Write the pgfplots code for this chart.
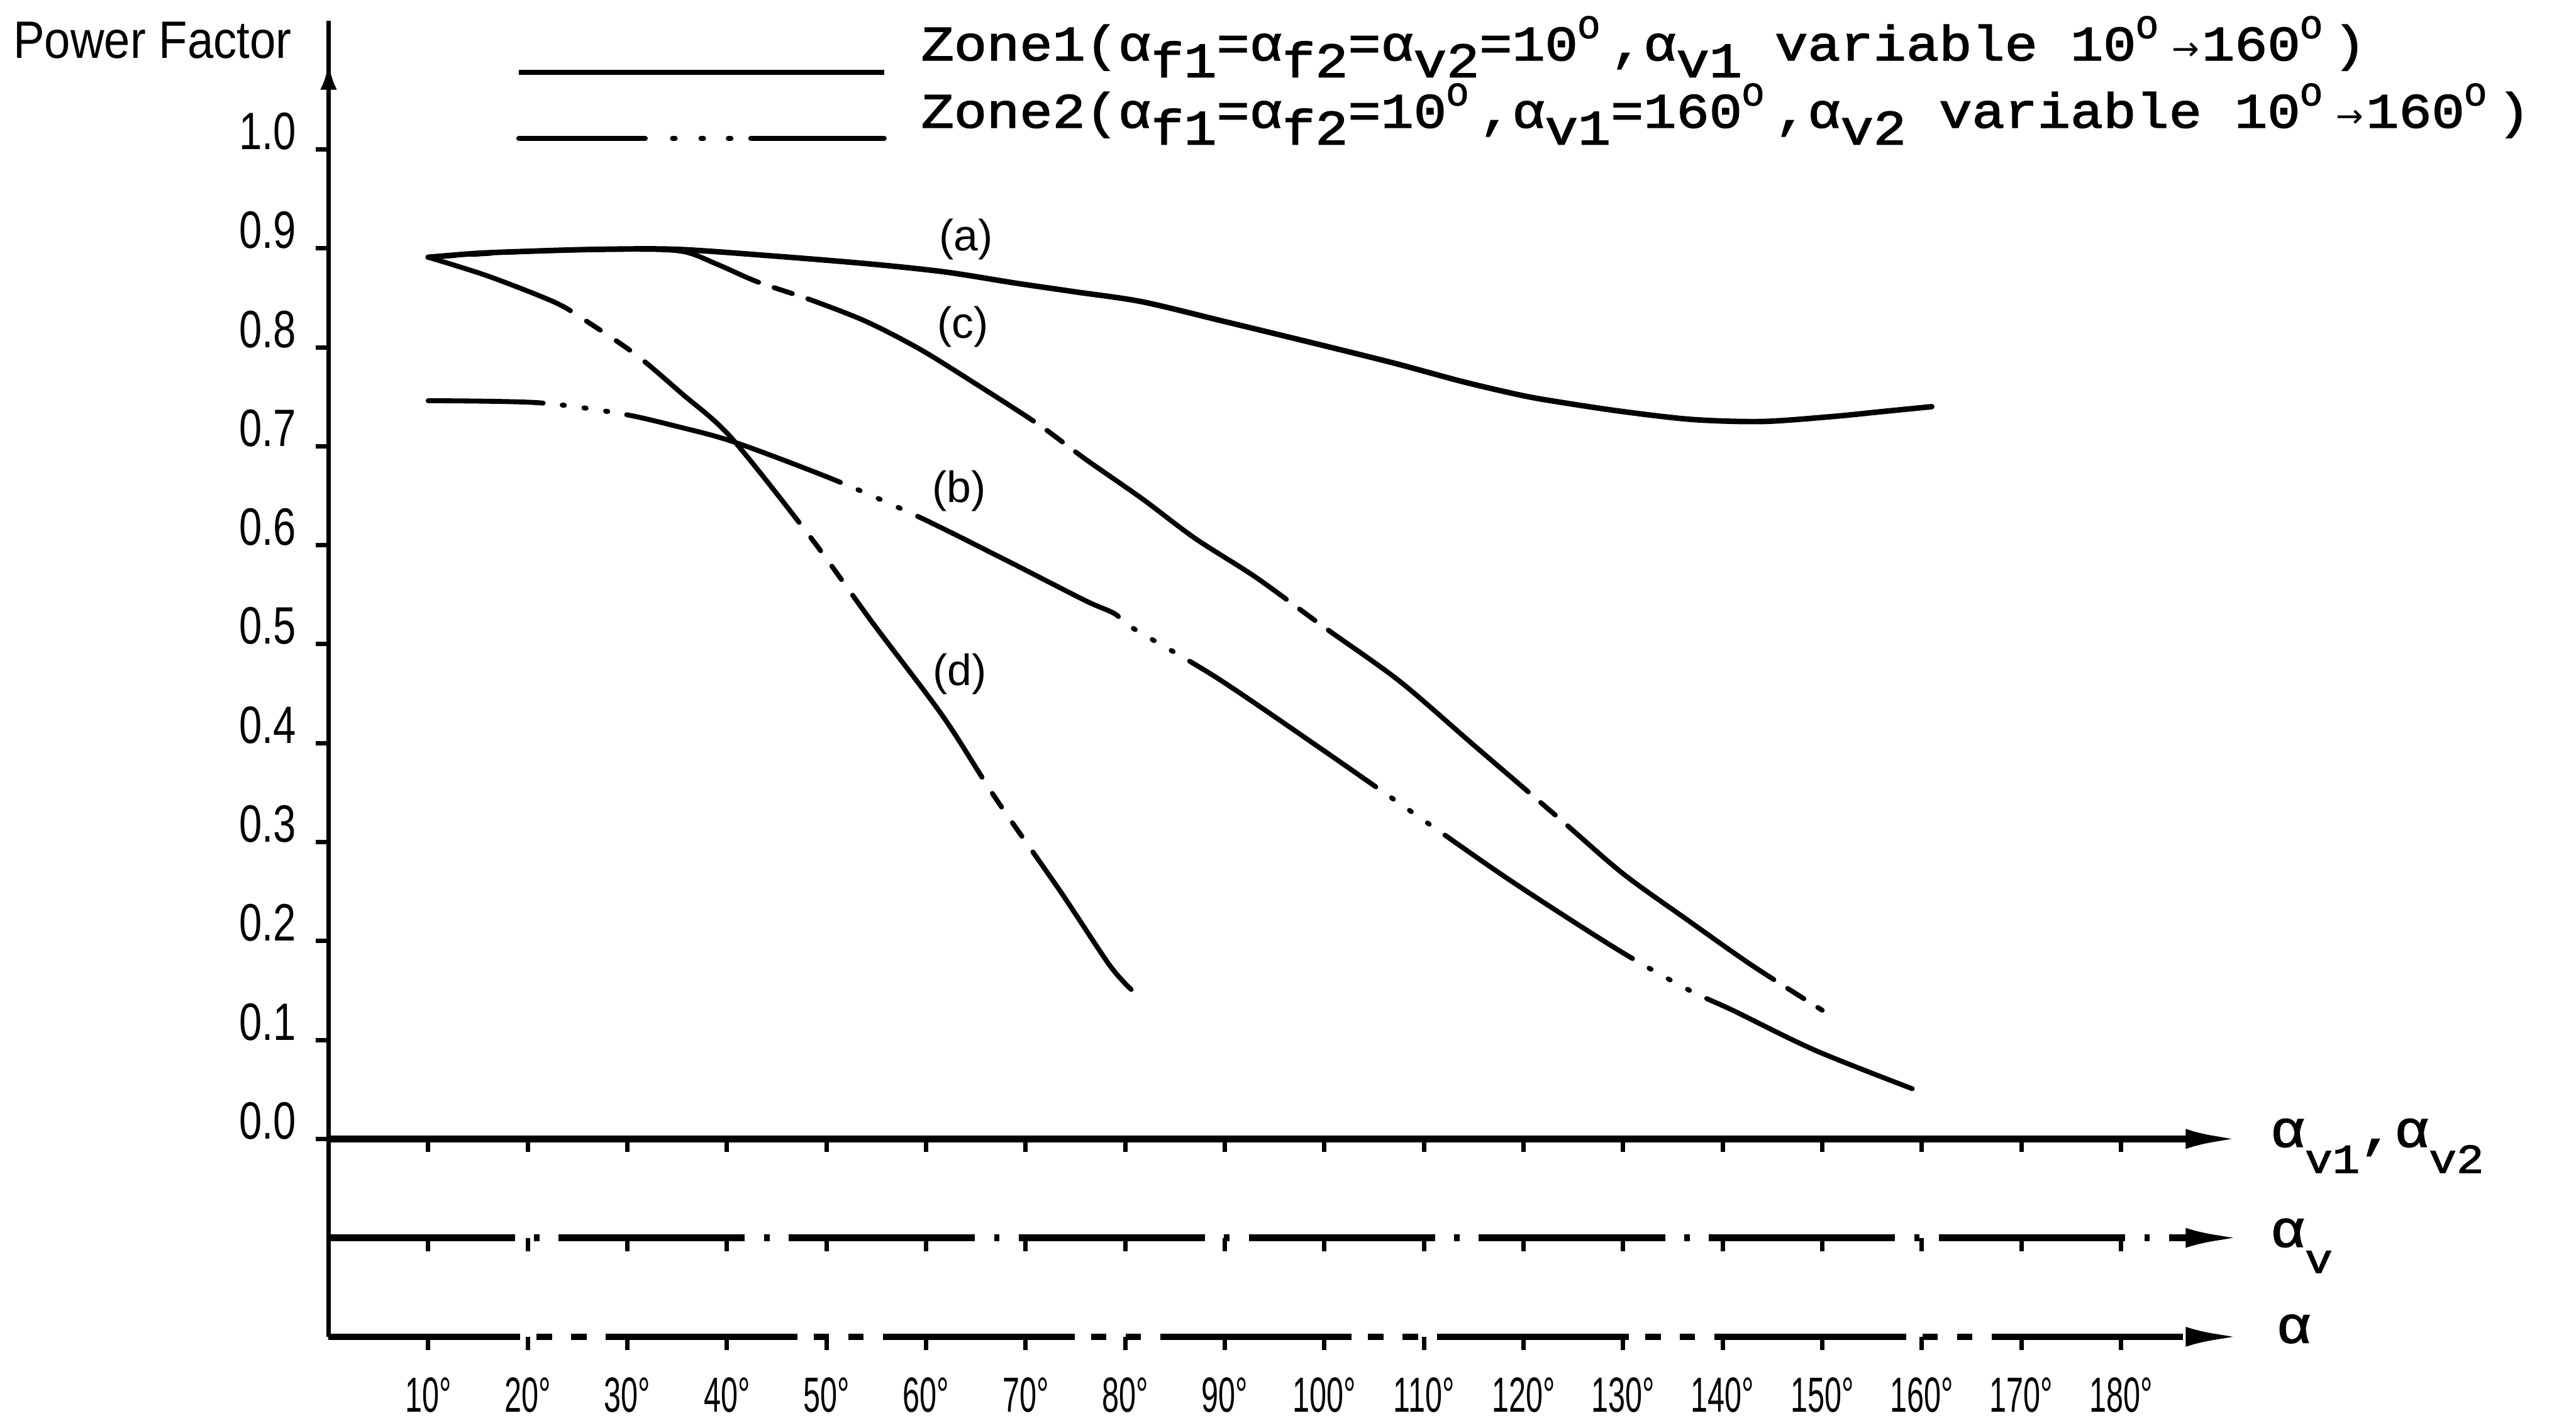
\documentclass[border=0pt]{standalone}
\usepackage{fontspec}
\setmainfont{Liberation Sans}
\newfontfamily\pffont[FakeStretch=0.89]{Liberation Sans}
\newfontfamily\ylabfont[FakeStretch=0.78]{Liberation Sans}
\newfontfamily\xlabfont[FakeStretch=0.62]{Liberation Sans}
\newfontfamily\typew[FakeStretch=1.11,FakeBold=2]{Liberation Mono}
\newfontfamily\symf{DejaVu Sans}
\usepackage{pgfplots}
\pgfplotsset{compat=1.18}
\usetikzlibrary{arrows.meta}

% typewriter-style sub/superscripts of the legend
\newcommand{\sub}[1]{\raisebox{-0.34em}{#1}}
\newcommand{\dg}{\makebox[6pt][l]{\raisebox{0.45em}{\fontsize{6}{6}\selectfont O}}}
\newcommand{\ar}{\makebox[6pt]{\symf\fontsize{6}{6}\selectfont →}}
\newcommand{\rsub}[1]{\raisebox{-0.5em}{\fontsize{7.5}{7.5}\selectfont #1}}

\begin{document}
\begin{tikzpicture}
\begin{axis}[
  x=1.818pt, y=180.6pt,
  xmin=0, xmax=192, ymin=-0.2, ymax=1.13,
  axis x line*=bottom, axis y line*=left,
  clip=false,
  x axis line style={line width=1.2pt,
    dash pattern=on 35pt off 3pt on 2.8pt off 3.5pt on 2.8pt off 3.5pt,
    -{Latex[length=10pt,width=3.6pt]}},
  y axis line style={line width=0.9pt},
  tick align=outside, major tick length=2.4pt,
  tick style={black, line width=0.8pt},
  xtick={10,20,...,180},
  xticklabels={10°,20°,30°,40°,50°,60°,70°,80°,90°,100°,110°,120°,130°,140°,150°,160°,170°,180°},
  ytick={0,0.1,0.2,0.3,0.4,0.5,0.6,0.7,0.8,0.9,1.0},
  yticklabels={0.0,0.1,0.2,0.3,0.4,0.5,0.6,0.7,0.8,0.9,1.0},
  xticklabel style={font=\xlabfont\fontsize{9}{10}\selectfont, anchor=base,
    inner xsep=0pt, inner ysep=1pt, yshift=-11.3pt},
  yticklabel style={font=\ylabfont\fontsize{9.6}{10}\selectfont, anchor=base east,
    inner sep=0pt, xshift=-3.3pt},
]

% frame of the drawing sheet
\path (axis cs:-33,-0.279) rectangle (axis cs:225.7,1.151);

% small arrow head on the power factor axis
\draw[line width=0.9pt, -{Latex[length=5pt,width=3pt]}] (axis cs:0,1.05) -- (axis cs:0,1.088);

% alpha_v1, alpha_v2 axis (PF = 0) and alpha_v axis
\addplot[line width=1.3pt, -{Latex[length=10pt,width=3.6pt]}] coordinates {(0,0) (192,0)};
\addplot[line width=1.2pt, dash pattern=on 34pt off 3.5pt on 1pt off 3.5pt,
  -{Latex[length=10pt,width=3.6pt]}] coordinates {(0,-0.1) (192,-0.1)};
\pgfplotsinvokeforeach{10,20,...,180}{
  \draw[line width=0.8pt] (axis cs:#1,0) -- ++(0pt,-2.4pt);
  \draw[line width=0.8pt] (axis cs:#1,-0.1) -- ++(0pt,-2.4pt);
}

% (a) zone 1
\addplot[line width=1pt, line cap=round, smooth] coordinates {
  (10,0.891) (15,0.895) (20,0.897) (27,0.899) (35,0.899) (45,0.892)
  (54.6,0.884) (62,0.876) (68.9,0.865) (75,0.856) (81.7,0.846) (90,0.826)
  (99,0.804) (107,0.784) (114,0.765) (120,0.751) (124,0.744) (130,0.735)
  (137,0.727) (144,0.725) (151,0.730) (156,0.735) (161,0.740)};

% (c)
\addplot[line width=0.9pt, line cap=round, smooth,
  dash pattern=on 47pt off 3pt on 3.5pt off 3pt, dash phase=42pt] coordinates {
  (10,0.891) (20,0.897) (30,0.899) (35.5,0.897) (39,0.884) (43.1,0.866)
  (48.4,0.848) (54,0.826) (59.4,0.798) (65,0.763) (71.3,0.722) (76,0.687)
  (81.7,0.647) (87,0.607) (93.2,0.567) (100,0.517) (107.5,0.463) (115,0.398)
  (123.8,0.322) (130,0.268) (136.5,0.221) (143,0.175) (150,0.130)};

% (b) zone 2
\addplot[line width=0.9pt, line cap=round, smooth,
  dash pattern=on 41pt off 3.5pt on 0.4pt off 3.6pt on 0.4pt off 3.6pt on 0.4pt off 3.5pt,
  dash phase=20pt] coordinates {
  (10,0.746) (21,0.744) (29.3,0.733) (35,0.720) (40.8,0.704) (50.8,0.666)
  (59.4,0.628) (68,0.585) (76,0.544) (78.9,0.531) (80.8,0.516) (89.2,0.466)
  (100,0.392) (110.4,0.319) (119,0.259) (129.5,0.191) (136.5,0.151)
  (141,0.130) (149.4,0.089) (160,0.047)};

% (d)
\addplot[line width=0.9pt, line cap=round, smooth,
  dash pattern=on 40.8pt off 3.5pt on 3pt off 3.5pt on 3pt off 3.5pt,
  dash phase=13pt] coordinates {
  (10,0.891) (16,0.872) (22.6,0.846) (25.5,0.829) (30.8,0.793) (35.5,0.753)
  (40.4,0.709) (48.4,0.608) (54.6,0.522) (61.7,0.427) (67,0.344)
  (73.5,0.250) (78.4,0.176) (80.6,0.151)};

% curve labels
\node[font=\fontsize{8}{9}\selectfont] at (axis cs:64,0.909) {(a)};
\node[font=\fontsize{8}{9}\selectfont] at (axis cs:63.7,0.821) {(c)};
\node[font=\fontsize{8}{9}\selectfont] at (axis cs:63.3,0.655) {(b)};
\node[font=\fontsize{8}{9}\selectfont] at (axis cs:63.4,0.470) {(d)};

% legend
\addplot[line width=0.9pt] coordinates {(19.1,1.078) (55.8,1.078)};
\addplot[line width=0.9pt, line cap=round,
  dash pattern=on 23.1pt off 4.95pt on 0.5pt off 4.7pt on 0.5pt off 4.5pt on 0.5pt off 3.6pt on 30pt]
  coordinates {(19.1,1.011) (55.8,1.011)};
\node[anchor=base west, inner sep=0pt, font=\typew\fontsize{9}{10}\selectfont]
  at (axis cs:59.4,1.090)
  {Zone1(α\sub{f1}=α\sub{f2}=α\sub{v2}=10\dg,α\sub{v1} variable 10\dg\ar160\dg)};
\node[anchor=base west, inner sep=0pt, font=\typew\fontsize{9}{10}\selectfont]
  at (axis cs:59.4,1.022)
  {Zone2(α\sub{f1}=α\sub{f2}=10\dg,α\sub{v1}=160\dg,α\sub{v2} variable 10\dg\ar160\dg)};

% axis names
\node[anchor=base east, inner sep=0pt, font=\pffont\fontsize{9.6}{10}\selectfont]
  at (axis cs:-3.6,1.092) {Power Factor};
\node[anchor=base west, inner sep=0pt, font=\typew\fontsize{9.5}{10}\selectfont]
  at (axis cs:194.9,-0.008) {α\rsub{v1},α\rsub{v2}};
\node[anchor=base west, inner sep=0pt, font=\typew\fontsize{9.5}{10}\selectfont]
  at (axis cs:194.9,-0.109) {α\rsub{v}};
\node[anchor=base west, inner sep=0pt, font=\typew\fontsize{9.5}{10}\selectfont]
  at (axis cs:195.5,-0.206) {α};
\end{axis}
\end{tikzpicture}
\end{document}
